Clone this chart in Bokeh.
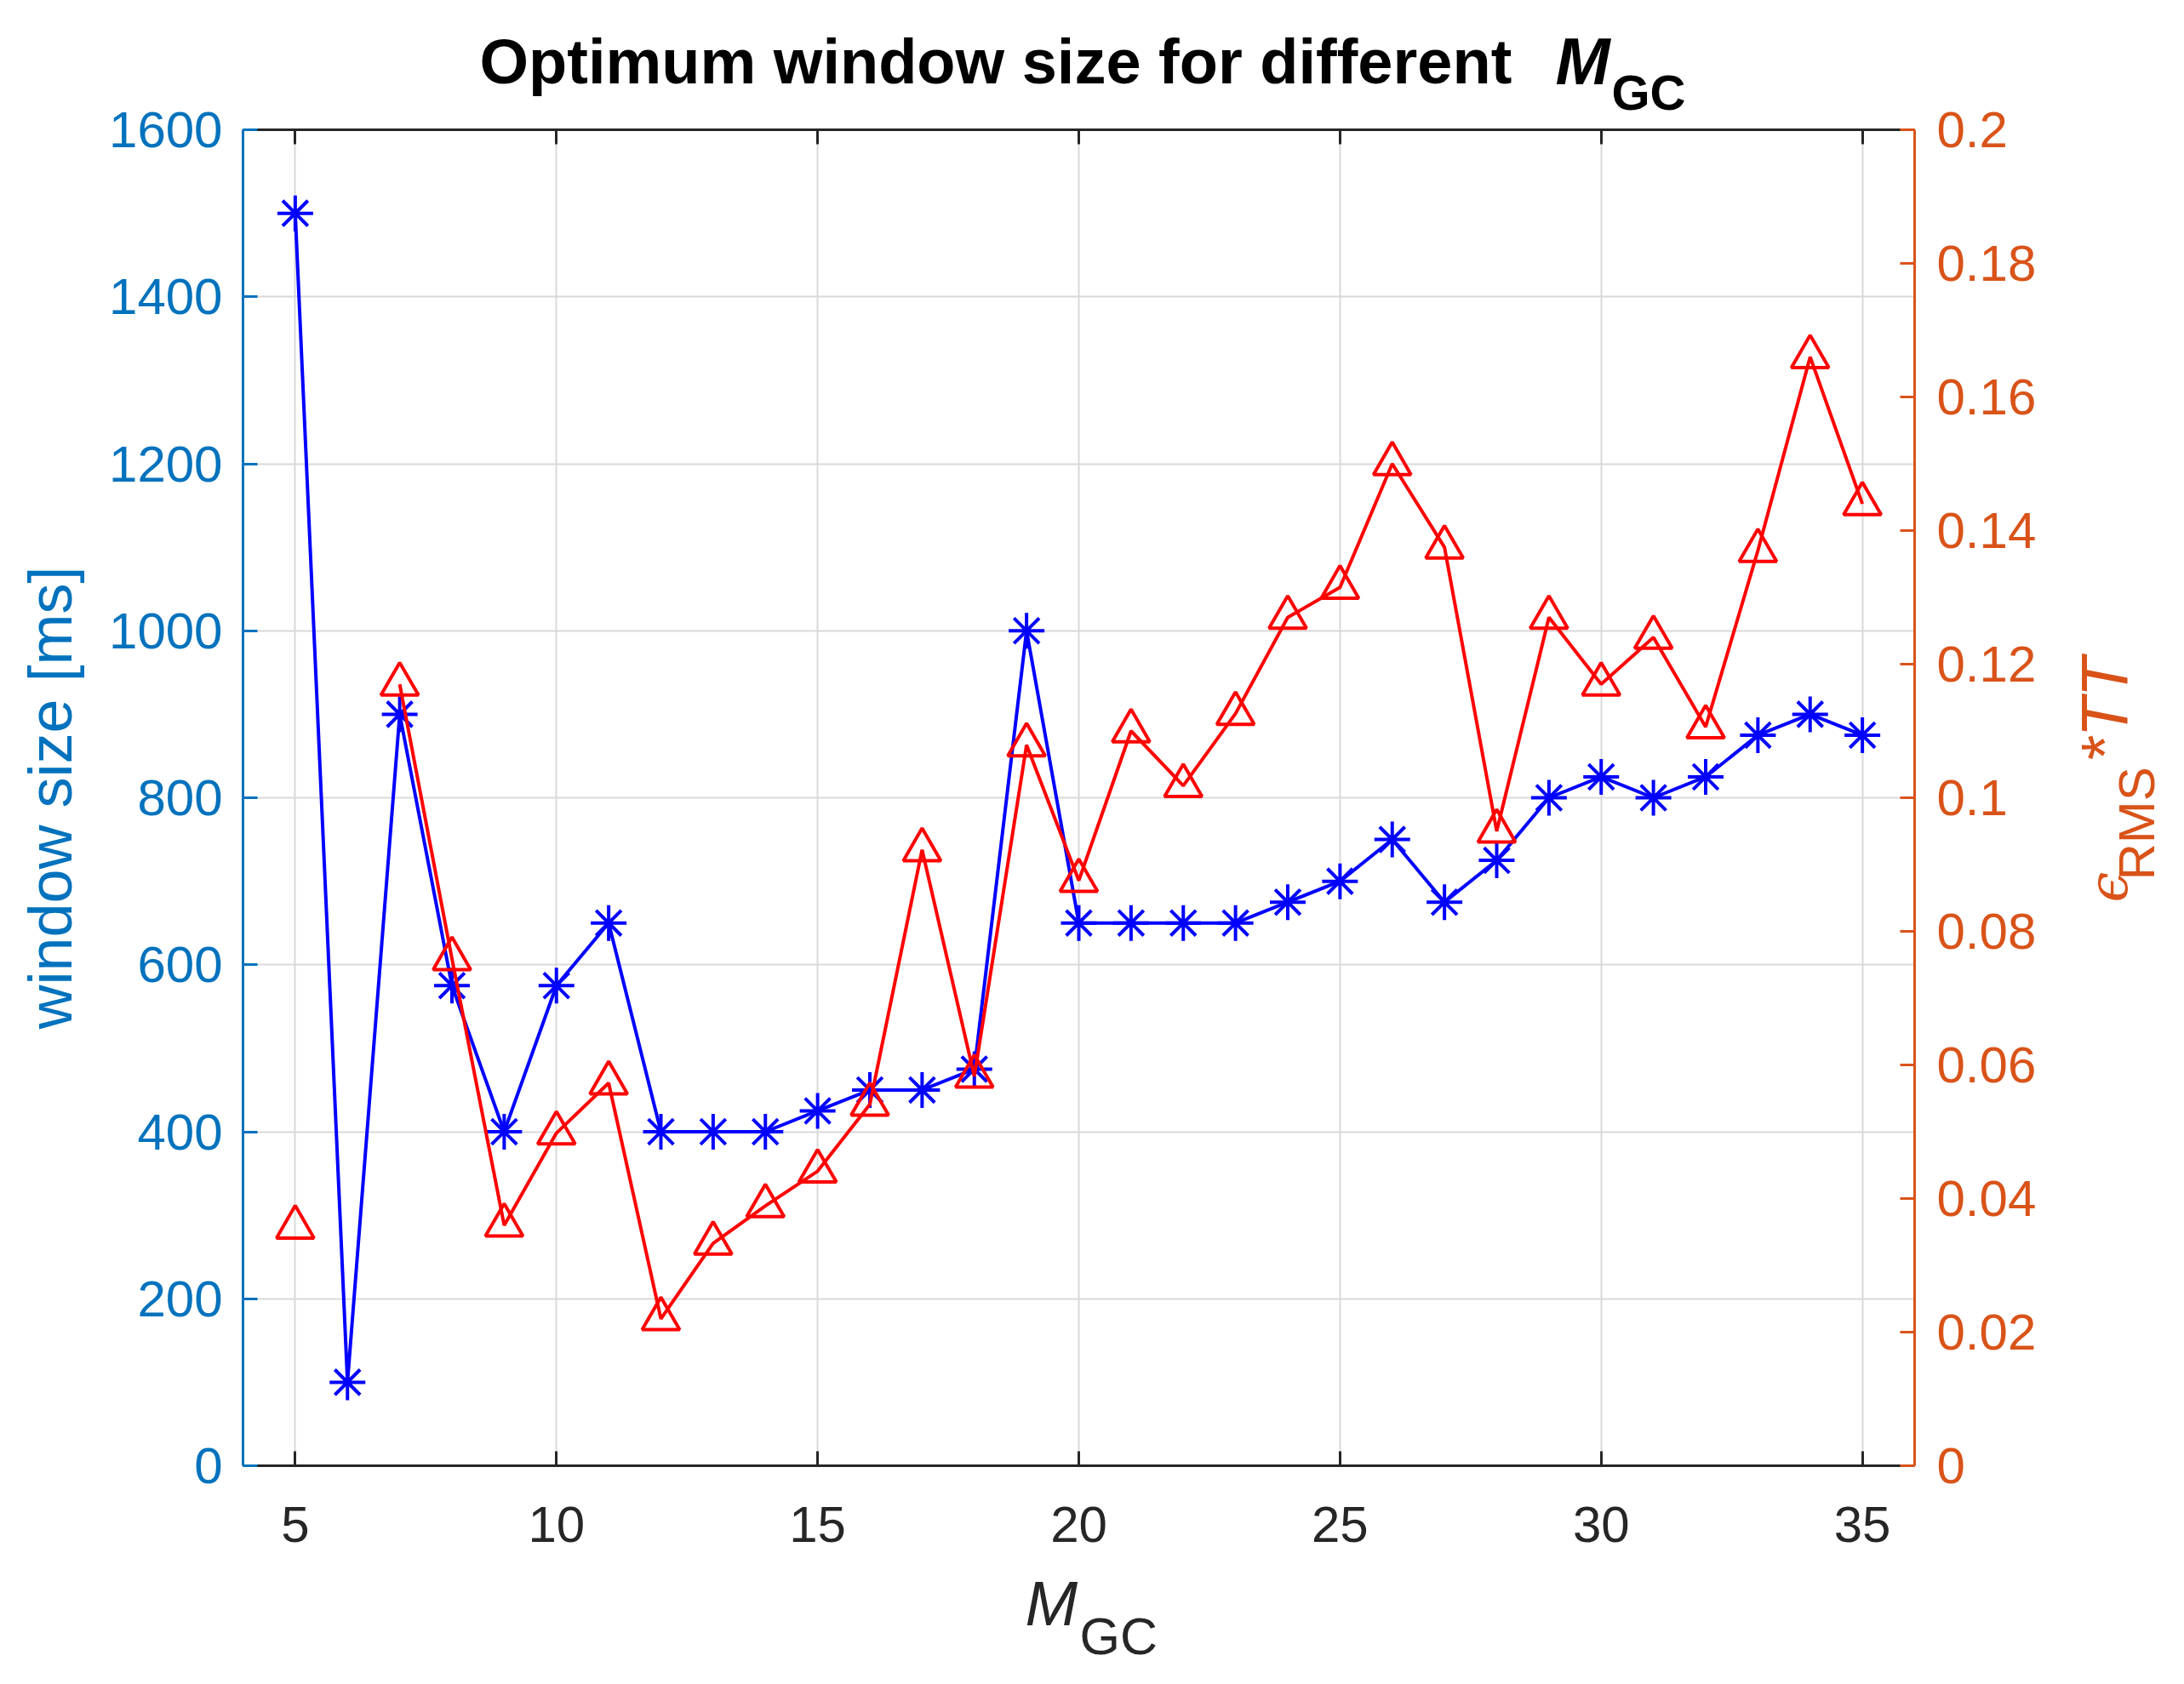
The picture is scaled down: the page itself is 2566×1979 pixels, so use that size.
import math
from bokeh.plotting import figure
from bokeh.models import Range1d, LinearAxis, FixedTicker, CustomJSTickFormatter, Label
from bokeh.embed import file_html
from bokeh.resources import INLINE

# ---- data ----
m_gc = [5, 6, 7, 8, 9, 10, 11, 12, 13, 14, 15, 16, 17, 18, 19, 20,
        21, 22, 23, 24, 25, 26, 27, 28, 29, 30, 31, 32, 33, 34, 35]
window_ms = [1500, 100, 900, 575, 400, 575, 650, 400, 400, 400, 425, 450, 450, 475, 1000, 650,
             650, 650, 650, 675, 700, 750, 675, 725, 800, 825, 800, 825, 875, 900, 875]
eps_tt = [0.0357, float("nan"), 0.117, 0.0759, 0.036, 0.0498, 0.0573, 0.022, 0.0333, 0.0389,
          0.0441, 0.0541, 0.0922, 0.0583, 0.1079, 0.0876, 0.110, 0.1018, 0.1126, 0.127,
          0.1315, 0.150, 0.1375, 0.095, 0.127, 0.117, 0.124, 0.1106, 0.137, 0.166, 0.144]
x_ticks = [5, 10, 15, 20, 25, 30, 35]
left_ticks = [0, 200, 400, 600, 800, 1000, 1200, 1400, 1600]
right_ticks = [0, 0.02, 0.04, 0.06, 0.08, 0.1, 0.12, 0.14, 0.16, 0.18, 0.2]

title_main = "Optimum window size for different"
left_label = "window size [ms]"

# ---- styles ----
FONT = "Liberation Sans"
BLUE_AX = "#0072BD"
ORANGE_AX = "#D95319"
DARK = "#262626"
GRID = "#d9d9d9"

# frame geometry on canvas (px)
FL, FR, FT, FB = 285, 2249, 152, 1722
X0, X1, Y0, Y1 = 4, 36, 0, 1600

p = figure(frame_width=FR - FL, frame_height=FB - FT,
           x_range=Range1d(X0, X1), y_range=Range1d(Y0, Y1),
           output_backend="svg", toolbar_location=None,
           min_border_left=FL, min_border_top=FT,
           min_border_right=2556 - FR, min_border_bottom=1968 - FB)
p.outline_line_color = None
p.background_fill_color = "white"
p.border_fill_color = "white"

p.extra_y_ranges = {"right": Range1d(0, 0.2)}

# bottom axis
xa = p.xaxis[0]
xa.ticker = FixedTicker(ticks=x_ticks)
xa.axis_line_color = DARK
xa.axis_line_width = 3
xa.major_tick_line_color = DARK
xa.major_tick_line_width = 3
xa.major_tick_in = 17
xa.major_tick_out = 0
xa.minor_tick_line_color = None
xa.major_label_text_font = FONT
xa.major_label_text_font_size = "60px"
xa.major_label_text_color = DARK
xa.major_label_standoff = 48

# top axis (box)
ta = LinearAxis(ticker=FixedTicker(ticks=x_ticks))
ta.axis_line_color = DARK
ta.axis_line_width = 3
ta.major_tick_line_color = DARK
ta.major_tick_line_width = 3
ta.major_tick_in = 17
ta.major_tick_out = 0
ta.minor_tick_line_color = None
ta.major_label_text_color = None
ta.major_label_text_font_size = "1px"
ta.major_label_standoff = 0
p.add_layout(ta, "above")

# left axis
ya = p.yaxis[0]
ya.ticker = FixedTicker(ticks=left_ticks)
ya.axis_line_color = BLUE_AX
ya.axis_line_width = 3
ya.major_tick_line_color = BLUE_AX
ya.major_tick_line_width = 3
ya.major_tick_in = 17
ya.major_tick_out = 0
ya.minor_tick_line_color = None
ya.major_label_text_font = FONT
ya.major_label_text_font_size = "60px"
ya.major_label_text_color = BLUE_AX
ya.major_label_standoff = 24

# right axis
ra = LinearAxis(y_range_name="right", ticker=FixedTicker(ticks=right_ticks),
                formatter=CustomJSTickFormatter(code="return Number(tick.toFixed(2)).toString();"))
ra.axis_line_color = ORANGE_AX
ra.axis_line_width = 3
ra.major_tick_line_color = ORANGE_AX
ra.major_tick_line_width = 3
ra.major_tick_in = 17
ra.major_tick_out = 0
ra.minor_tick_line_color = None
ra.major_label_text_font = FONT
ra.major_label_text_font_size = "60px"
ra.major_label_text_color = ORANGE_AX
ra.major_label_standoff = 26
p.add_layout(ra, "right")

# grids
p.xgrid.ticker = FixedTicker(ticks=x_ticks)
p.ygrid.ticker = FixedTicker(ticks=left_ticks)
for g in (p.xgrid[0], p.ygrid[0]):
    g.grid_line_color = GRID
    g.grid_line_width = 2

# series
p.line(m_gc, window_ms, line_color="#0000ff", line_width=4)
p.scatter(m_gc, window_ms, marker="asterisk", size=42, line_color="#0000ff", line_width=4)
p.line(m_gc, eps_tt, line_color="#ff0000", line_width=4, y_range_name="right")
p.scatter(m_gc, eps_tt, marker="triangle", size=44, line_color="#ff0000", line_width=4,
          fill_color=None, y_range_name="right")


def add_text(side, px, py, text, size, color, style="normal", font=FONT, angle=0.0,
             align="left"):
    p.add_layout(Label(x=px, y=py, x_units="canvas", y_units="canvas",
                       text=text, text_font=font, text_font_size=size,
                       text_font_style=style, text_color=color, angle=angle,
                       text_align=align, text_baseline="alphabetic"), side)


R = math.pi / 2
# title (kept in the bottom panel so it does not push the frame down)
add_text("below", 563, 72, title_main, "74px", "#000000", "bold")
add_text("below", 1827, 71, "M", "77px", "#000000", "bold italic")
add_text("below", 1893, 108, "GC", "58px", "#000000", "bold")

# x label
add_text("below", 1204, 1884, "M", "74px", DARK, "italic")
add_text("below", 1268, 1922, "GC", "61px", DARK)

# left y label
add_text("left", 58, 937, left_label, "72px", BLUE_AX, angle=R, align="center")

# right y label: eps_RMS *TT
add_text("right", 2476, 1060, "\u03f5", "64px", ORANGE_AX, "italic", font="DejaVu Serif", angle=R)
add_text("right", 2510, 1034, "RMS", "60px", ORANGE_AX, angle=R)
add_text("right", 2472, 896, "*TT", "77px", ORANGE_AX, "italic", angle=R)

open("out.html", "w").write(file_html(p, INLINE))
